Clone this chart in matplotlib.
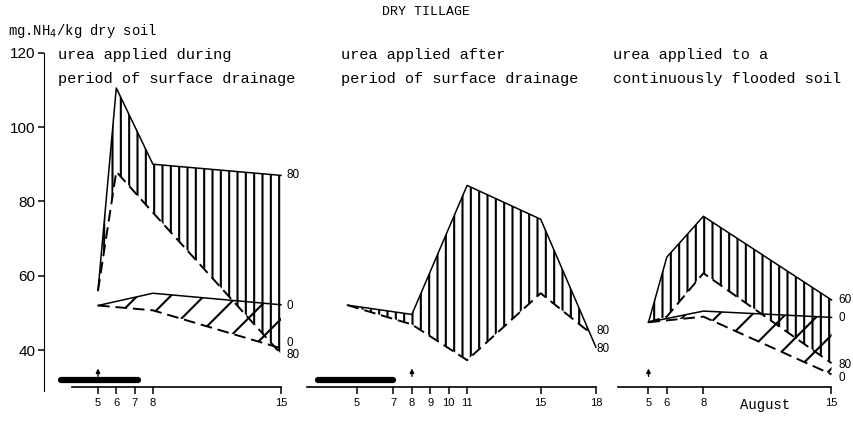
import numpy as np
import matplotlib
matplotlib.use("Agg")
import matplotlib.pyplot as plt

plt.rcParams["hatch.linewidth"] = 1.5
plt.rcParams["font.family"] = ["Liberation Sans", "DejaVu Sans"]
MONO = ["Liberation Mono", "DejaVu Sans Mono"]

# --- data (mg NH4 / kg dry soil) ---
# panel 1: urea applied during period of surface drainage
p1_days = [5, 6, 8, 15]
p1_solid80 = [56, 110.5, 90, 87]
p1_dash80 = [56, 88, 77, 39]
p1_days0 = [5, 8, 15]
p1_solid0 = [52, 55.3, 52.2]
p1_dash0 = [52, 50.7, 40.5]
p1_ticks = [5, 6, 7, 8, 15]
p1_drain = [3.0, 7.2]
p1_urea = 5

# panel 2: urea applied after period of surface drainage
p2_days = [4.5, 8, 11, 15, 18]
p2_solid80 = [52.1, 49.6, 84.3, 75.2, 40.8]
p2_dash_days = [4.5, 8, 11, 15, 17.6]
p2_dash80 = [52.1, 46.9, 37.3, 55.3, 45]
p2_ticks = [5, 7, 8, 9, 10, 11, 15, 18]
p2_drain = [2.9, 7.0]
p2_urea = 8

# panel 3: urea applied to a continuously flooded soil
p3_days = [5, 6, 8, 15]
p3_solid60 = [47.5, 65, 76, 53.5]
p3_dash60 = [47.5, 49, 60.7, 36.5]
p3_days0 = [5, 8, 15]
p3_solid0 = [47.5, 50.5, 48.8]
p3_dash0 = [47.5, 49, 33.5]
p3_ticks = [5, 6, 8, 15]
p3_urea = 5

W, H = 854, 421
Y_TOP, Y_BOT = 52.7, 387.3   # pixel rows of 120 and 30

fig = plt.figure(figsize=(W / 100, H / 100), dpi=100)


def make_axes(left_px, right_px, day5_px, px_day, xline):
    ax = fig.add_axes([left_px / W, (H - Y_BOT) / H,
                       (right_px - left_px) / W, (Y_BOT - Y_TOP) / H])
    ax.set_xlim(5 - (day5_px - left_px) / px_day, 5 + (right_px - day5_px) / px_day)
    ax.set_ylim(30, 120)
    ax.patch.set_alpha(0)
    ax.spines["top"].set_visible(False)
    ax.spines["right"].set_visible(False)
    ax.spines["bottom"].set_bounds(*xline)
    ax.spines["bottom"].set_linewidth(1.2)
    ax.tick_params(axis="x", direction="out", length=5, width=1.1, pad=3, labelsize=8)
    return ax


def pair(ax, xs, ys, xd, yd, hatch):
    px = np.concatenate([xs, xd[::-1]])
    py = np.concatenate([ys, yd[::-1]])
    ax.fill(px, py, fill=False, hatch=hatch, lw=0, edgecolor="black")
    ax.plot(xs, ys, color="black", lw=1.1)
    ax.plot(xd, yd, color="black", lw=1.4, ls=(0, (6, 3)))


def extras(ax, drain, urea):
    if drain is not None:
        ax.plot(drain, [31.9, 31.9], color="black", lw=4.5, solid_capstyle="round")
    ax.annotate("", xy=(urea, 35.8), xytext=(urea, 32.2),
                arrowprops=dict(arrowstyle="-|>", lw=1, color="black", mutation_scale=6))


def end_labels(ax, x, labels):
    for txt, y in labels:
        ax.text(x, y, txt, fontsize=8.5, va="center", ha="left")


# panel 1
ax1 = make_axes(44, 290, 98, 18.3, (3.6, 15))
pair(ax1, np.array(p1_days), np.array(p1_solid80), np.array(p1_days), np.array(p1_dash80), "||")
pair(ax1, np.array(p1_days0), np.array(p1_solid0), np.array(p1_days0), np.array(p1_dash0), "/")
extras(ax1, p1_drain, p1_urea)
end_labels(ax1, 15.3, [("80", 87.2), ("0", 52), ("0", 42), ("80", 38.6)])
ax1.set_xticks(p1_ticks)
ax1.set_yticks([40, 60, 80, 100, 120])
ax1.spines["left"].set_bounds(29, 120)
ax1.tick_params(axis="y", direction="out", length=4, width=1.1, pad=2, labelsize=11)

# panel 2
ax2 = make_axes(300, 600, 356.7, 18.4, (2.3, 18))
pair(ax2, np.array(p2_days), np.array(p2_solid80), np.array(p2_dash_days), np.array(p2_dash80), "||")
extras(ax2, p2_drain, p2_urea)
end_labels(ax2, 18.05, [("80", 45.1), ("80", 40.3)])
ax2.set_xticks(p2_ticks)
ax2.spines["left"].set_visible(False)
ax2.set_yticks([])

# panel 3
ax3 = make_axes(606, 842, 648.5, 18.3, (3.35, 15))
pair(ax3, np.array(p3_days), np.array(p3_solid60), np.array(p3_days), np.array(p3_dash60), "||")
pair(ax3, np.array(p3_days0), np.array(p3_solid0), np.array(p3_days0), np.array(p3_dash0), "/")
extras(ax3, None, p3_urea)
end_labels(ax3, 15.4, [("60", 53.4), ("0", 48.6), ("80", 36), ("0", 32.5)])
ax3.set_xticks(p3_ticks)
ax3.spines["left"].set_visible(False)
ax3.set_yticks([])
ax3.text(11.4, -0.053, "August", family=MONO, fontsize=10, ha="center", va="center",
         transform=ax3.get_xaxis_transform())

# texts
fig.text(426 / W, 1 - 12 / H, "DRY TILLAGE", family=MONO, fontsize=9.5, ha="center", va="center")
fig.text(8 / W, 1 - 31 / H, r"mg.NH$_4$/kg dry soil", family=MONO, fontsize=10, ha="left", va="center")
titles = [(58, "urea applied during", "period of surface drainage"),
          (341, "urea applied after", "period of surface drainage"),
          (613, "urea applied to a", "continuously flooded soil")]
for x, l1, l2 in titles:
    fig.text(x / W, 1 - 55 / H, l1, family=MONO, fontsize=11, ha="left", va="center")
    fig.text(x / W, 1 - 79 / H, l2, family=MONO, fontsize=11, ha="left", va="center")

fig.savefig("out.png", dpi=100)
